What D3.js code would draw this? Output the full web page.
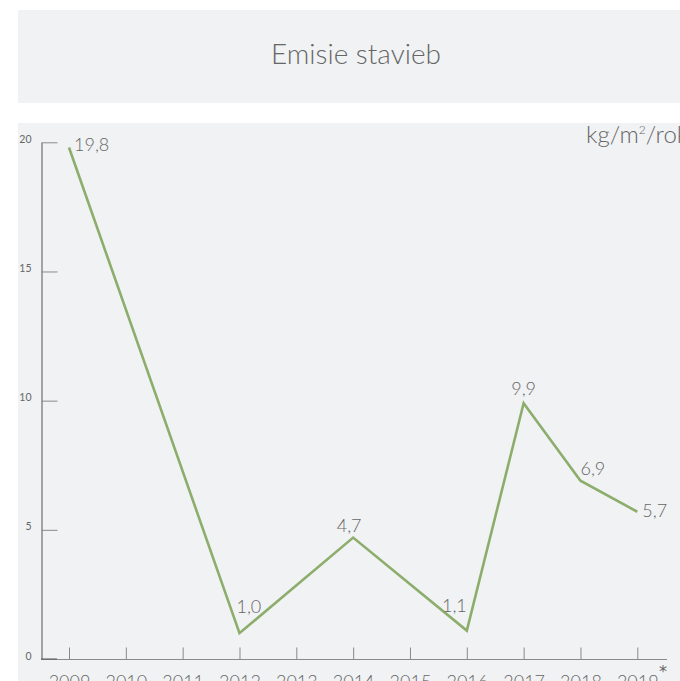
<!DOCTYPE html>
<html>
<head>
<meta charset="utf-8">
<script src="https://cdn.jsdelivr.net/npm/d3@7"></script>
<style>
  html, body { margin: 0; padding: 0; background: #ffffff; }
  svg { display: block; font-family: Lato, "Open Sans", sans-serif; }
</style>
</head>
<body>
<svg id="chart" width="680" height="681"></svg>
<script>
// ---- data ----
const title = "Emisie stavieb";
const years = ["2009","2010","2011","2012","2013","2014","2015","2016","2017","2018","2019"];
const pointYears = ["2009","2012","2014","2016","2017","2018","2019"];
const pointValues = [19.8, 1.0, 4.7, 1.1, 9.9, 6.9, 5.7];
const pointLabels = ["19,8","1,0","4,7","1,1","9,9","6,9","5,7"];
const yTicks = [0, 5, 10, 15, 20];

// ---- layout (label placement relative to point) ----
const labelPlacement = [
  {anchor: "start", dx: 5, dy: 4},
  {anchor: "start", dx: -3, dy: -20},
  {anchor: "middle", dx: -4, dy: -6},
  {anchor: "end", dx: 0, dy: -19},
  {anchor: "middle", dx: 0, dy: -8},
  {anchor: "start", dx: 0, dy: -6},
  {anchor: "start", dx: 5, dy: 5}
];

const svg = d3.select("#chart");
const textColor = "#666666";
const bg = "#f1f2f4";
const lineColor = "#8cad6b";

// background boxes
svg.append("rect").attr("x", 18).attr("y", 10).attr("width", 662).attr("height", 93).attr("fill", bg);
svg.append("rect").attr("x", 18).attr("y", 123).attr("width", 662).attr("height", 558).attr("fill", bg);

svg.append("text")
  .attr("x", 356).attr("y", 64)
  .attr("text-anchor", "middle")
  .attr("font-size", 28).attr("font-weight", 300)
  .attr("fill", textColor)
  .text(title);

const x = d3.scalePoint().domain(years).range([69, 637.3]);
const y = d3.scaleLinear().domain([0, 20]).range([659, 142.3]);

// y axis
const yAxis = d3.axisLeft(y).tickValues(yTicks).tickSizeInner(-16).tickSizeOuter(0).tickPadding(10);
const gy = svg.append("g").attr("transform", "translate(41.5,0)").call(yAxis);
gy.select(".domain").attr("stroke", "#555").attr("stroke-width", 1);
gy.selectAll(".tick line").attr("stroke", "#8a8a8a");
gy.selectAll(".tick text").attr("fill", textColor).attr("font-size", 10.5).attr("dy", "0").attr("font-family", "Lato, sans-serif");

// x axis
svg.append("line").attr("x1", 41).attr("x2", 667).attr("y1", 659.5).attr("y2", 659.5).attr("stroke", "#8a8a8a");
const xAxis = d3.axisBottom(x).tickSizeInner(-12).tickSizeOuter(0).tickPadding(16);
const gx = svg.append("g").attr("transform", "translate(0,659.5)").call(xAxis);
gx.select(".domain").remove();
gx.selectAll(".tick line").attr("stroke", "#8a8a8a");
gx.selectAll(".tick text").attr("fill", textColor).attr("font-size", 18).attr("font-weight", 300).attr("font-family", "Lato, sans-serif");
// zero tick highlight on y axis
svg.append("line").attr("x1", 41).attr("x2", 57).attr("y1", y(0)).attr("y2", y(0)).attr("stroke", "#555");

svg.append("text").attr("x", 659).attr("y", 677).attr("font-size", 16).attr("font-family", "DejaVu Sans, sans-serif").attr("fill", textColor).text("*");

// unit
const unit = svg.append("text").attr("x", 586).attr("y", 143).attr("font-size", 24).attr("font-weight", 300).attr("fill", textColor);
unit.append("tspan").text("kg/m");
unit.append("tspan").attr("font-size", 12).attr("dy", -9).text("2");
unit.append("tspan").attr("dy", 9).text("/rok");

// line
const pts = pointYears.map((yr, i) => ({yr, v: pointValues[i], label: pointLabels[i], p: labelPlacement[i]}));
const line = d3.line().x(d => x(d.yr)).y(d => y(d.v));
svg.append("path").datum(pts).attr("d", line)
  .attr("fill", "none").attr("stroke", lineColor).attr("stroke-width", 2.6)
  .attr("stroke-linejoin", "miter");

svg.selectAll(".lbl").data(pts).enter().append("text")
  .attr("class", "lbl")
  .attr("x", d => x(d.yr) + d.p.dx)
  .attr("y", d => y(d.v) + d.p.dy)
  .attr("text-anchor", d => d.p.anchor)
  .attr("font-size", 18).attr("font-weight", 300)
  .attr("fill", textColor)
  .text(d => d.label);
</script>
</body>
</html>
